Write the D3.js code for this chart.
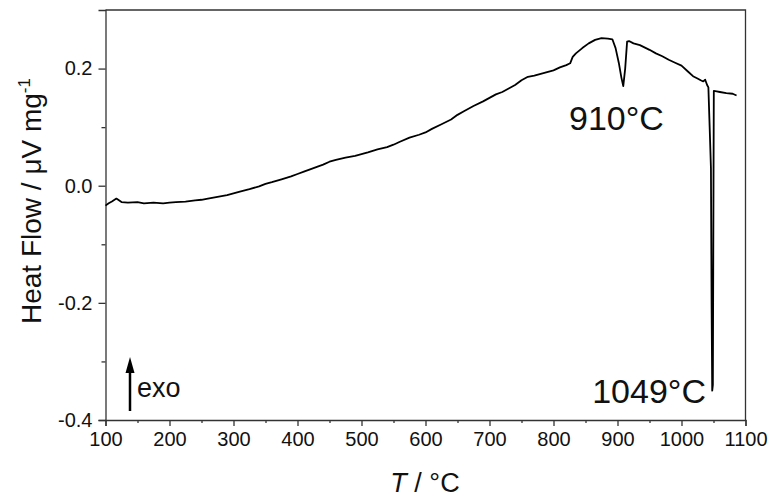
<!DOCTYPE html>
<html>
<head>
<meta charset="utf-8">
<script src="https://cdn.jsdelivr.net/npm/d3@7"></script>
<style>
  body { margin: 0; background: #fff; }
  svg { font-family: "Liberation Sans", Arial, sans-serif; }
</style>
</head>
<body>
<div id="chart"></div>
<script>
// DSC trace, heat flow vs temperature

const temps = [100,105,110,117,125,135,150,160,175,190,200,210,225,240,250,260,275,290,300,310,
  325,340,350,360,375,390,400,410,425,440,450,460,475,490,500,510,525,540,550,560,575,590,600,
  610,625,640,650,660,675,690,700,710,720,730,740,750,760,770,780,790,800,810,820,826,830,835,
  845,855,865,875,885,892,897,902,906,909,912,915,918,925,935,950,960,970,980,990,1000,1010,
  1018,1025,1030,1034,1037,1040,1042,1044,1046,1047,1048,1049,1050,1050.5,1055,1060,1070,1080,1086];

const heatFlow = [-0.034,-0.030,-0.027,-0.022,-0.028,-0.029,-0.028,-0.030,-0.029,-0.030,-0.029,
  -0.028,-0.027,-0.025,-0.024,-0.022,-0.019,-0.016,-0.013,-0.010,-0.006,-0.001,0.003,0.006,0.011,
  0.016,0.020,0.024,0.030,0.036,0.041,0.044,0.048,0.051,0.054,0.057,0.062,0.066,0.070,0.075,
  0.082,0.087,0.091,0.097,0.105,0.113,0.121,0.127,0.136,0.144,0.150,0.156,0.160,0.166,0.172,
  0.180,0.186,0.188,0.191,0.194,0.197,0.202,0.206,0.209,0.220,0.226,0.235,0.243,0.249,0.252,
  0.251,0.250,0.235,0.210,0.185,0.170,0.200,0.246,0.247,0.243,0.240,0.232,0.226,0.221,0.215,
  0.210,0.205,0.195,0.187,0.183,0.180,0.178,0.181,0.172,0.168,0.100,0.030,-0.200,-0.350,-0.340,
  0.000,0.162,0.161,0.160,0.158,0.157,0.154];

const xTicks = [100,200,300,400,500,600,700,800,900,1000,1100];
const yTicks = [-0.4,-0.2,0.0,0.2];
const peakLabels = ["910°C", "1049°C"];

const width = 777, height = 501,
      margin = ({top: 10, right: 31.5, bottom: 82, left: 105.5});

const data = temps.map((t, i) => ({t: t, v: heatFlow[i]}));

let svg = d3.select("#chart")
    .append("svg")
    .attr("width", width)
    .attr("height", height);

let x = d3.scaleLinear()
    .domain([100, 1100])
    .range([margin.left, width - margin.right]);

let y = d3.scaleLinear()
    .domain([-0.4, 0.3])
    .range([height - margin.bottom + 1, margin.top]);

const axisColor = "#333";
const fmtY = d => d3.format(".1f")(d).replace("−", "-"); // plain hyphen like the original

// frame (top and right)
svg.append("path")
    .attr("d", `M${x(100)},${y(0.3)}H${x(1100)}V${y(-0.4)}`)
    .attr("fill", "none")
    .attr("stroke", axisColor)
    .attr("stroke-width", 1.3);

const xAxis = g => g
    .attr("transform", `translate(0,${y(-0.4)})`)
    .call(d3.axisBottom(x).tickValues(xTicks).tickSize(6).tickPadding(6).tickFormat(d3.format("d")))
    .call(g => g.select(".domain").attr("stroke", axisColor).attr("stroke-width", 1.3))
    .call(g => g.selectAll(".tick line").attr("stroke", axisColor).attr("stroke-width", 1.3))
    .call(g => g.selectAll("text").attr("font-size", 20).attr("fill", "#111"));

const xMinor = g => g
    .attr("transform", `translate(0,${y(-0.4)})`)
    .call(d3.axisBottom(x).tickValues(d3.range(150, 1100, 100)).tickSize(3).tickFormat(""))
    .call(g => g.select(".domain").remove())
    .call(g => g.selectAll(".tick line").attr("stroke", axisColor).attr("stroke-width", 1.3));

const yAxis = g => g
    .attr("transform", `translate(${x(100)},0)`)
    .call(d3.axisLeft(y).tickValues(yTicks).tickSize(7).tickPadding(6).tickFormat(fmtY))
    .call(g => g.select(".domain").attr("stroke", axisColor).attr("stroke-width", 1.3))
    .call(g => g.selectAll(".tick line").attr("stroke", axisColor).attr("stroke-width", 1.3))
    .call(g => g.selectAll("text").attr("font-size", 20).attr("fill", "#111"));

const yMinor = g => g
    .attr("transform", `translate(${x(100)},0)`)
    .call(d3.axisLeft(y).tickValues([-0.3, -0.1, 0.1]).tickSize(4).tickFormat(""))
    .call(g => g.select(".domain").remove())
    .call(g => g.selectAll(".tick line").attr("stroke", axisColor).attr("stroke-width", 1.3));

svg.append("g").call(xMinor);
svg.append("g").call(yMinor);
svg.append("g").call(xAxis);
svg.append("g").call(yAxis);

// the trace
let line = d3.line()
    .x(d => x(d.t))
    .y(d => y(d.v));

svg.append("path")
    .datum(data)
    .attr("fill", "none")
    .attr("stroke", "#000")
    .attr("stroke-width", 1.8)
    .attr("stroke-linejoin", "round")
    .attr("d", line);

// axis titles
let xt = svg.append("text")
    .attr("x", 425)
    .attr("y", 492)
    .attr("text-anchor", "middle")
    .attr("font-size", 27)
    .attr("fill", "#111");
xt.append("tspan").attr("font-style", "italic").text("T");
xt.append("tspan").text(" / °C");

let yt = svg.append("text")
    .attr("transform", "translate(41,201) rotate(-90)")
    .attr("text-anchor", "middle")
    .attr("font-size", 28)
    .attr("fill", "#111");
yt.append("tspan").text("Heat Flow / μV mg");
yt.append("tspan").attr("font-size", 17).attr("dy", -11).text("-1");

// peak labels
svg.append("text")
    .attr("x", 569)
    .attr("y", 130)
    .attr("font-size", 34)
    .attr("fill", "#111")
    .text(peakLabels[0]);

svg.append("text")
    .attr("x", 706)
    .attr("y", 403)
    .attr("text-anchor", "end")
    .attr("font-size", 34)
    .attr("fill", "#111")
    .text(peakLabels[1]);

// exo arrow
svg.append("line")
    .attr("x1", 130).attr("y1", 411)
    .attr("x2", 130).attr("y2", 370)
    .attr("stroke", "#000")
    .attr("stroke-width", 2.5);
svg.append("path")
    .attr("d", "M130,357L125.5,373L134.5,373Z")
    .attr("fill", "#000");
svg.append("text")
    .attr("x", 137)
    .attr("y", 397)
    .attr("font-size", 27)
    .attr("fill", "#111")
    .text("exo");
</script>
</body>
</html>
